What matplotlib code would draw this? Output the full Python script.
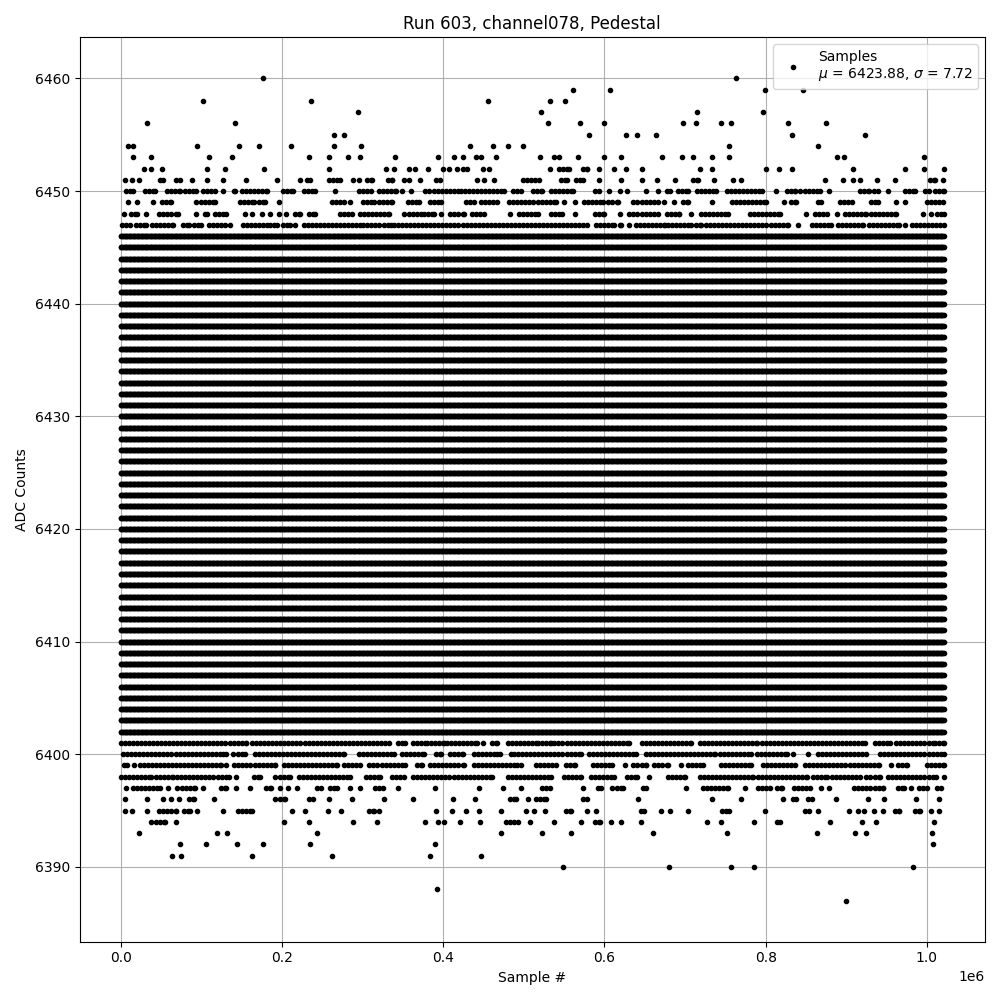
import numpy as np
import matplotlib
matplotlib.use('Agg')
import matplotlib.pyplot as plt

# run 603, channel078 pedestal samples
n_samples = 1022000
mu = 6423.88
sigma = 7.72

# ADC levels hit so often that the row is solid over the whole run
dense_levels = list(range(6402, 6447))

# sparser levels: sample # in units of 1000, (start, end) = run of hits
lvl_6460 = [177, 763]
lvl_6459 = [561, 607, 799, 846]
lvl_6458 = [102, 236, 456, 532, 551]
lvl_6457 = [294, 521, 715, 797]
lvl_6456 = [33, 142, 530, 570, 600, 698, 714, 744, 757, 828, 875]
lvl_6455 = [264, 277, 581, 627, 640, 664, 833, 923]
lvl_6454 = [9, 15, 95, 147, 172, 211, 265, 298, 433, 462, 481, 499, 755, 865]
lvl_6453 = [15, 38, 110, 138, 233, 258, 282, 297, 340, 394, 413, 425, 441, 447,
            466, 520, 537, 544, 567, 599, 620, 672, 696, 710, 733, 754, 889, 897, 996]
lvl_6452 = [29, 37, 51, 107, 130, 178, 259, 329, 339, 357, 365, 381, 400, 407, 417,
            (425, 430), 449, 457, 533, (544, 556), (573, 579), 593, 612, 627, 646,
            718, 733, 801, 817, 833, 908, 973, 997, 1021]
lvl_6451 = [5, 14, 23, 49, 53, 68, 74, 88, 107, 127, 156, 194, 222, 231, 235,
            (258, 272), 288, 295, (306, 312), (331, 337), (352, 357), 371, (391, 396),
            442, 451, 463, (499, 519), (546, 554), (565, 573), 593, 621, 647, 665, 687,
            (710, 716), 736, 760, 770, 874, 896, 908, 917, 938, 961, (1004, 1010), 1020]
lvl_6450 = [(7, 15), (30, 42), (57, 73), (80, 94), (102, 117), 127, (140, 142),
            (150, 181), (201, 214), (227, 241), 266, (295, 310), (320, 341), 349, 360,
            (378, 418), (422, 442), (447, 476), (486, 496), (511, 523), (534, 561),
            (588, 593), 606, 619, 628, 652, 666, (678, 681), (691, 704), (715, 739),
            (752, 795), 813, (826, 837), 843, (849, 867), 878, (917, 928), (934, 939),
            952, (973, 985), (998, 1002), (1010, 1021)]
lvl_6449 = [9, 20, 40, (51, 63), (94, 117), (148, 165), (172, 179), 196, (262, 277),
            284, (301, 314), (320, 337), (356, 370), (384, 397), (428, 438), (447, 467),
            (482, 540), 550, 564, (575, 598), (605, 617), (636, 666), 674, 686,
            (697, 704), 733, (758, 801), 823, (832, 838), (865, 869), (892, 907),
            (931, 939), 962, 973, (1000, 1020)]
lvl_6448 = [4, (13, 20), 32, (48, 71), 93, (104, 107), (117, 131), 154, 163, 175, 185,
            196, 205, (216, 222), (234, 241), (272, 287), (297, 333), (352, 372),
            (376, 389), 397, (409, 426), (436, 451), 483, (494, 517), (534, 548), 563,
            (588, 600), 619, (630, 635), (641, 666), (677, 693), 708, (720, 753),
            (780, 818), 850, (861, 876), 889, (898, 925), (931, 962), 995, 1005,
            (1012, 1021)]
lvl_6447 = [(2, 11), (19, 32), (39, 65), (77, 85), (91, 100), (110, 135), (152, 181),
            (185, 194), (201, 210), 216, (227, 297), (301, 335), (339, 579), (590, 612),
            (619, 621), 630, (639, 675), (679, 704), (708, 720), (726, 828), 840,
            (857, 881), (890, 921), (928, 965), 973, (981, 1021)]

lvl_6401 = [(0, 156), (163, 333), (344, 353), (362, 380), (385, 401), (405, 442), 449,
            (461, 467), (480, 515), (517, 534), (538, 631), (646, 708), (718, 789),
            (795, 923), (936, 954), (962, 1010), (1015, 1021)]
lvl_6400 = [(3, 127), 131, 139, (145, 154), (166, 277), (295, 339), (349, 376),
            (391, 397), (408, 424), (438, 467), 471, 484, (488, 571), (581, 639),
            (651, 737), (743, 782), (789, 826), 834, 853, (865, 925), (942, 1021)]
lvl_6399 = [(4, 8), 17, (24, 78), (83, 125), 131, (141, 192), (202, 268), (277, 297),
            (308, 318), (324, 353), (367, 374), (384, 426), (438, 492), 496, (515, 540),
            (552, 563), (586, 610), 626, (636, 652), (662, 679), 695, (704, 722),
            (744, 782), (797, 836), (849, 940), 955, (964, 975), (1000, 1021)]
lvl_6398 = [(0, 38), (44, 65), (70, 115), (121, 134), 143, (165, 173), (192, 210),
            (221, 285), (304, 322), (337, 351), (362, 407), (413, 461), (480, 534),
            (550, 571), (583, 612), (628, 641), 655, (679, 700), (718, 784), (790, 851),
            (859, 876), (882, 917), (925, 942), (952, 996), (1002, 1011), 1021]
lvl_6397 = [6, (15, 49), 59, 70, (76, 92), 102, (125, 131), 143, 160, (180, 187), 197,
            207, 219, (243, 248), (260, 268), 284, 297, (316, 325), 344, 390, 445, 474,
            496, (523, 532), 574, (592, 596), (610, 623), (648, 652), 701, (722, 753),
            774, (791, 805), (814, 820), (835, 855), 869, 878, (910, 946), (964, 971),
            980, (990, 1000), (1013, 1018)]
lvl_6396 = [5, 33, 53, 62, 72, (85, 91), 116, (192, 204), (234, 239), 259, 287, 326,
            362, 412, 440, (483, 490), 505, (515, 527), (573, 578), 642, 734, 769, 821,
            (834, 838), (853, 857), 887, 927, 947, 987, 1015]
lvl_6395 = [5, 14, 33, 47, (53, 69), (78, 86), 95, 127, (145, 163), 212, 228, 257, 273,
            (308, 314), 321, 391, 411, 428, 445, 472, 503, 513, 526, (552, 559), 578,
            590, (645, 649), 670, 681, 704, (746, 755), 799, (849, 854), 865, 903, 914,
            922, 934, 946, (960, 966), (985, 992), 1005, 1015]
lvl_6394 = [37, (44, 55), 69, 202, 233, 288, 318, 377, 394, 401, 421, 446, (478, 493),
            508, 537, 571, (588, 594), 608, 620, 645, 727, 744, 786, (814, 818), 880,
            919, 937, 1009]
lvl_6393 = [23, 119, 132, 244, 472, 523, 559, 660, 752, 864, 911, 925, 1006]
lvl_6392 = [73, 106, 144, 176, 235, 390, 1008]
lvl_6391 = [64, 75, 163, 262, 384, 447]
lvl_6390 = [549, 680, 757, 786, 983]
lvl_6388 = [392]
lvl_6387 = [900]

sparse = {6460: lvl_6460, 6459: lvl_6459, 6458: lvl_6458, 6457: lvl_6457,
          6456: lvl_6456, 6455: lvl_6455, 6454: lvl_6454, 6453: lvl_6453,
          6452: lvl_6452, 6451: lvl_6451, 6450: lvl_6450, 6449: lvl_6449,
          6448: lvl_6448, 6447: lvl_6447, 6401: lvl_6401, 6400: lvl_6400,
          6399: lvl_6399, 6398: lvl_6398, 6397: lvl_6397, 6396: lvl_6396,
          6395: lvl_6395, 6394: lvl_6394, 6393: lvl_6393, 6392: lvl_6392,
          6391: lvl_6391, 6390: lvl_6390, 6388: lvl_6388, 6387: lvl_6387}

xs = []
ys = []
idx = np.arange(0, n_samples, 1000)
for lvl in dense_levels:
    xs.append(idx)
    ys.append(np.full(idx.size, lvl))
for lvl, hits in sparse.items():
    for h in hits:
        if isinstance(h, tuple):
            s = np.append(np.arange(h[0] * 1000, h[1] * 1000, 5000), h[1] * 1000)
        else:
            s = np.array([h * 1000])
        xs.append(s)
        ys.append(np.full(s.size, lvl))
x = np.concatenate(xs)
y = np.concatenate(ys)

fig, ax = plt.subplots(figsize=(10, 10))
ax.plot(x, y, '.', color='black',
        label='Samples\n$\\mu$ = %.2f, $\\sigma$ = %.2f' % (mu, sigma))
ax.set_title('Run 603, channel078, Pedestal')
ax.set_xlabel('Sample #')
ax.set_ylabel('ADC Counts')
ax.grid(True)
ax.legend(loc='upper right')
plt.tight_layout()
plt.savefig('out.png', dpi=100)
